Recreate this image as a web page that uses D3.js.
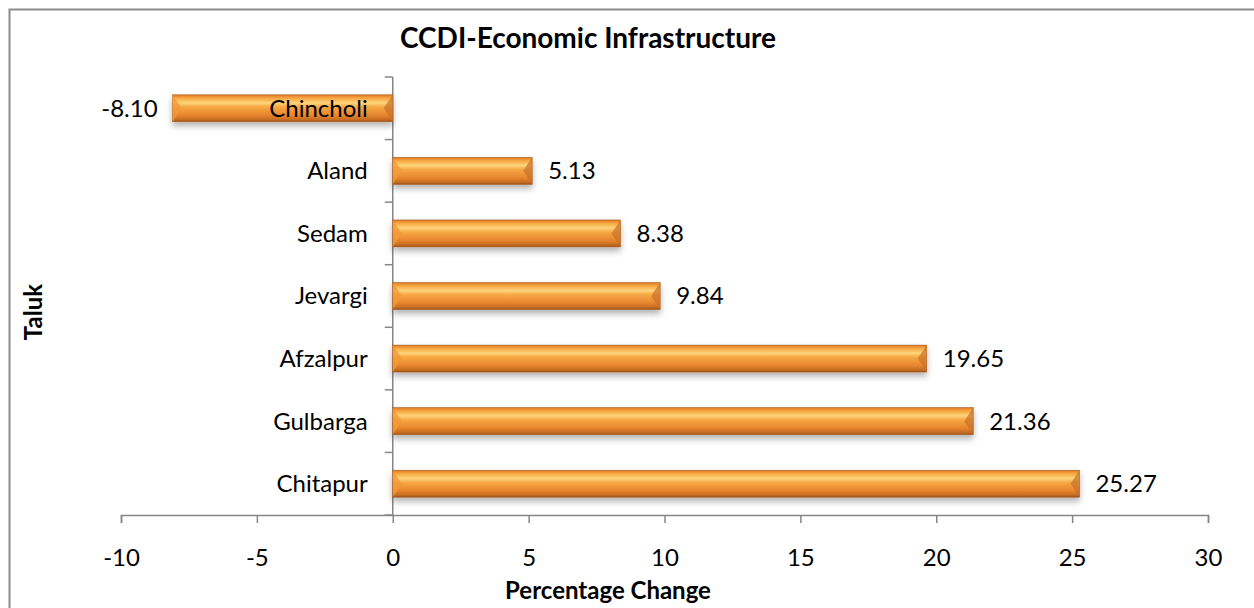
<!DOCTYPE html>
<html>
<head>
<meta charset="utf-8">
<script src="https://cdn.jsdelivr.net/npm/d3@7"></script>
<style>
  body { margin: 0; background: #fff; }
  text { font-family: Lato, "Open Sans", sans-serif; }
</style>
</head>
<body>
<svg id="chart"></svg>
<script>
// data
const taluks = ["Chincholi", "Aland", "Sedam", "Jevargi", "Afzalpur", "Gulbarga", "Chitapur"];
const changes = [-8.10, 5.13, 8.38, 9.84, 19.65, 21.36, 25.27];
const xTicks = [-10, -5, 0, 5, 10, 15, 20, 25, 30];

const width = 1254, height = 608;
const svg = d3.select("#chart").attr("width", width).attr("height", height);

// outer border
svg.append("rect")
    .attr("x", 9.5).attr("y", 9.5)
    .attr("width", 1260).attr("height", 620)
    .attr("fill", "#fff")
    .attr("stroke", "#8c8c8c")
    .attr("stroke-width", 2);

const defs = svg.append("defs");
const grad = defs.append("linearGradient")
    .attr("id", "barGrad")
    .attr("x1", 0).attr("y1", 0).attr("x2", 0).attr("y2", 1);
[[0, "#e07a26"], [0.12, "#f7a640"], [0.3, "#fdd47a"], [0.45, "#f7a844"],
 [0.75, "#e8862e"], [0.92, "#c66d22"], [1, "#9c5218"]].forEach(s => {
    grad.append("stop").attr("offset", s[0]).attr("stop-color", s[1]);
});

const shadow = defs.append("filter").attr("id", "shadow")
    .attr("x", "-5%").attr("y", "-30%").attr("width", "110%").attr("height", "180%");
shadow.append("feDropShadow")
    .attr("dx", 0).attr("dy", 4).attr("stdDeviation", 3)
    .attr("flood-color", "#000").attr("flood-opacity", 0.3);

const x = d3.scaleLinear().domain([-10, 30]).range([121, 1208]);
const y = d3.scaleBand().domain(taluks).range([77, 515]).paddingInner(0.57).paddingOuter(0.285);

// x axis
const xAxis = svg.append("g")
    .attr("transform", "translate(0,515)")
    .call(d3.axisBottom(x).tickValues(xTicks).tickSize(8).tickPadding(26)
        .tickFormat(d => String(d)));
xAxis.select(".domain").attr("stroke", "#868686").attr("stroke-width", 1.5);
xAxis.selectAll(".tick line").attr("stroke", "#868686").attr("stroke-width", 1.5);
xAxis.selectAll("text")
    .style("font-size", "24px").attr("fill", "#000");

// vertical axis at zero with category ticks between bands
const bounds = d3.range(taluks.length + 1).map(i => 77 + i * (438 / taluks.length));
svg.append("line")
    .attr("x1", x(0)).attr("x2", x(0))
    .attr("y1", 77).attr("y2", 515)
    .attr("stroke", "#868686").attr("stroke-width", 1.5);
svg.selectAll(".ytick").data(bounds).join("line")
    .attr("class", "ytick")
    .attr("x1", x(0) - 8).attr("x2", x(0))
    .attr("y1", d => d).attr("y2", d => d)
    .attr("stroke", "#868686").attr("stroke-width", 1.5);

// bars
const data = taluks.map((t, i) => ({ taluk: t, value: changes[i] }));
const bars = svg.selectAll(".bar").data(data).join("g").attr("class", "bar");
bars.append("rect")
    .attr("x", d => Math.min(x(0), x(d.value)))
    .attr("y", d => y(d.taluk))
    .attr("width", d => Math.abs(x(d.value) - x(0)))
    .attr("height", y.bandwidth())
    .attr("fill", "url(#barGrad)")
    .attr("stroke", "#a85a1c")
    .attr("stroke-width", 0.6)
    .attr("filter", "url(#shadow)");

// bevel triangles at bar ends
bars.each(function(d) {
    const g = d3.select(this);
    const y0 = y(d.taluk), h = y.bandwidth(), b = 9;
    const xs = [Math.min(x(0), x(d.value)), Math.max(x(0), x(d.value))];
    g.append("path")
        .attr("d", `M${xs[0]},${y0}L${xs[0] + b},${y0 + h / 2}L${xs[0]},${y0 + h}Z`)
        .attr("fill", "#f29a3a").attr("opacity", 0.8);
    g.append("path")
        .attr("d", `M${xs[1]},${y0}L${xs[1] - b},${y0 + h / 2}L${xs[1]},${y0 + h}Z`)
        .attr("fill", "#c8702a").attr("opacity", 0.7);
});

// category labels
svg.selectAll(".cat").data(taluks).join("text")
    .attr("class", "cat")
    .attr("x", x(0) - 25)
    .attr("y", d => y(d) + y.bandwidth() / 2)
    .attr("dy", "0.35em")
    .attr("text-anchor", "end")
    .style("font-size", "24px")
    .text(d => d);

// value labels
svg.selectAll(".val").data(data).join("text")
    .attr("class", "val")
    .attr("x", d => d.value < 0 ? x(d.value) - 15 : x(d.value) + 16)
    .attr("y", d => y(d.taluk) + y.bandwidth() / 2)
    .attr("dy", "0.35em")
    .attr("text-anchor", d => d.value < 0 ? "end" : "start")
    .style("font-size", "24px")
    .text(d => d.value.toFixed(2));

// titles
svg.append("text")
    .attr("x", 588).attr("y", 48)
    .attr("text-anchor", "middle")
    .style("font-size", "28px").style("font-weight", "bold")
    .text("CCDI-Economic Infrastructure");
svg.append("text")
    .attr("x", 608).attr("y", 599)
    .attr("text-anchor", "middle")
    .style("font-size", "24px").style("font-weight", "bold")
    .text("Percentage Change");
svg.append("text")
    .attr("transform", "translate(42,312) rotate(-90)")
    .attr("text-anchor", "middle")
    .style("font-size", "24px").style("font-weight", "bold")
    .text("Taluk");
</script>
</body>
</html>
